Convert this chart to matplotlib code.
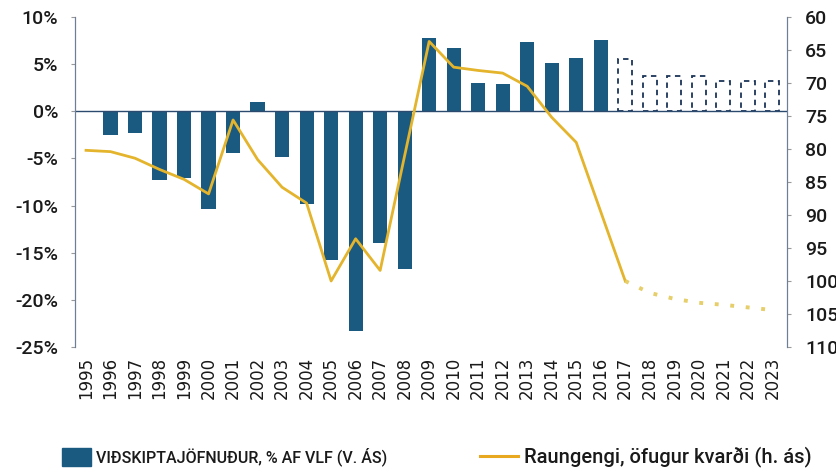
import matplotlib
matplotlib.use("Agg")
import matplotlib.pyplot as plt
from matplotlib.patches import Patch
from matplotlib.lines import Line2D
import numpy as np

years = [str(y) for y in range(1995, 2024)]
# Current account balance, % of GDP (left axis); 2017-2023 are forecasts
balance = [0.0, -2.5, -2.3, -7.3, -7.1, -10.4, -4.4, 1.0, -4.9, -9.8, -15.8, -23.3, -14.0, -16.7,
           7.8, 6.7, 3.0, 2.9, 7.4, 5.1, 5.7, 7.6, 5.5, 3.7, 3.7, 3.7, 3.2, 3.2, 3.2]
forecast_start = 2017
# Real exchange rate, inverted scale (right axis)
rer = [80.2, 80.4, 81.4, 83.1, 84.6, 86.8, 75.6, 81.6, 85.8, 88.2, 100.0, 93.6, 98.4, 81.0,
       63.7, 67.6, 68.1, 68.5, 70.5, 75.2, 79.0, 89.5, 100.0, 101.8, 102.7, 103.3, 103.6, 104.0, 104.4]

left_ticks = [10, 5, 0, -5, -10, -15, -20, -25]
right_ticks = [60, 65, 70, 75, 80, 85, 90, 95, 100, 105, 110]

bar_color = "#1b5a80"
edge_navy = "#1d3558"
line_color = "#e3b42c"
legend_line_color = "#e8a820"
fc_line_color = "#e6cf6a"
text_color = "#1a1a1a"
label_font = ['Roboto', 'DejaVu Sans']

fig = plt.figure(figsize=(8.37, 4.76), dpi=100)
ax = fig.add_axes([75/837, 1-347/476, (787-75)/837, (347-17)/476])
ax2 = ax.twinx()

x = np.arange(len(years))
yr_int = [int(y) for y in years]
hist = [i for i, y in enumerate(yr_int) if y < forecast_start]
fc = [i for i, y in enumerate(yr_int) if y >= forecast_start]

ax.bar([x[i] for i in hist], [balance[i] for i in hist], width=0.58, color=bar_color, zorder=2)
ax.bar([x[i] for i in fc], [balance[i] for i in fc], width=0.58, facecolor="white",
       edgecolor=edge_navy, linestyle=(0, (3, 2.5)), linewidth=1.3, zorder=2)
ax.axhline(0, color="#2c4a6e", lw=1.0, zorder=3)

ax.set_ylim(-25, 10)
ax.set_yticks(left_ticks)
ax.set_yticklabels([f"{t}%" for t in left_ticks], fontsize=14, family=label_font,
                   weight='medium', color=text_color)
ax.set_xlim(-0.45, 28.6)
ax.set_xticks(x)
ax.set_xticklabels(years, rotation=90, fontsize=12, family=['DejaVu Sans'], color=text_color)
ax.tick_params(axis='x', length=0, pad=7)
ax.tick_params(axis='y', length=3, color="#999999", pad=9)

# line on inverted right axis
h_end = hist[-1] + 1  # include 2017 in solid line
ax2.plot(x[:h_end + 1], rer[:h_end + 1], color=line_color, lw=2.0, zorder=4)
ax2.plot(x[h_end:], rer[h_end:], color=fc_line_color, lw=2.8, linestyle=(0, (1, 3)), zorder=4)
ax2.set_ylim(110, 60)
ax2.set_yticks(right_ticks)
ax2.set_yticklabels([str(t) for t in right_ticks], fontsize=14, family=label_font,
                    weight='medium', color=text_color)
ax2.tick_params(axis='y', length=3, color="#999999", pad=10)

for a in (ax, ax2):
    a.spines['top'].set_visible(False)
    a.spines['bottom'].set_visible(False)
    a.spines['left'].set_color("#6b7f99")
    a.spines['right'].set_color("#6b7f99")
ax.set_zorder(1)
ax2.set_zorder(2)
ax2.patch.set_visible(False)
ax.patch.set_facecolor("white")

leg_y = 1 - 457/476
leg1 = fig.legend([Patch(facecolor=bar_color, edgecolor=bar_color)],
                  ["VIÐSKIPTAJÖFNUÐUR, % AF VLF (V. ÁS)"],
                  loc="center left", bbox_to_anchor=(62/837, leg_y), frameon=False,
                  handlelength=1.8, handleheight=1.35, handletextpad=0.3,
                  borderpad=0, borderaxespad=0,
                  prop={'family': label_font, 'size': 11.5, 'weight': 'medium'})
leg2 = fig.legend([Line2D([0], [0], color=legend_line_color, lw=2.2)],
                  ["Raungengi, öfugur kvarði (h. ás)"],
                  loc="center left", bbox_to_anchor=(480/837, leg_y), frameon=False,
                  handlelength=1.9, handletextpad=0.3,
                  borderpad=0, borderaxespad=0,
                  prop={'family': label_font, 'size': 14.5, 'weight': 'medium'})
for leg in (leg1, leg2):
    for t in leg.get_texts():
        t.set_color(text_color)

fig.savefig("out.png", dpi=100)
